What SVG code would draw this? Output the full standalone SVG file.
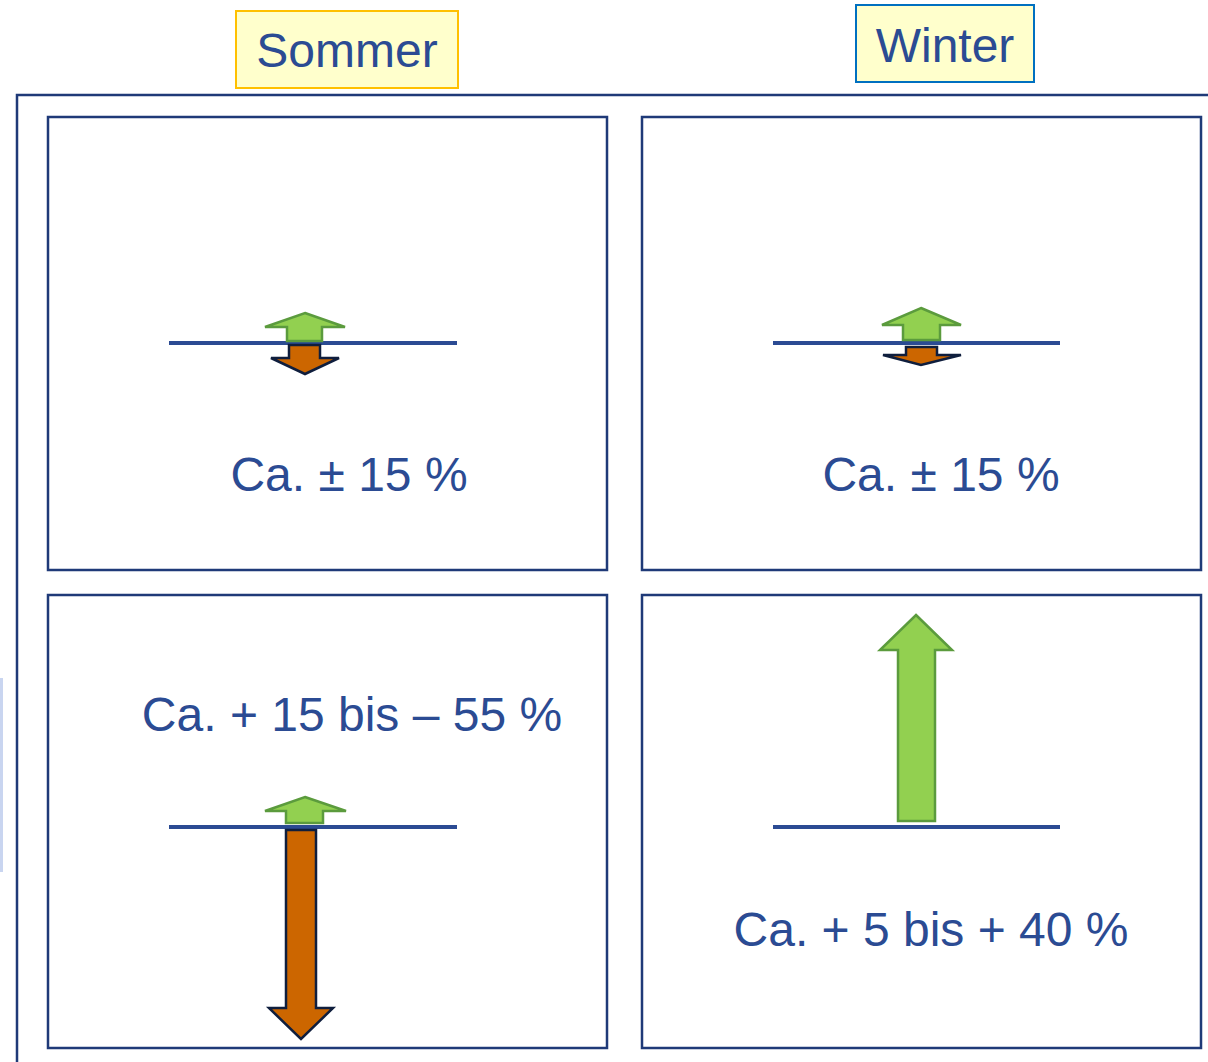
<svg xmlns="http://www.w3.org/2000/svg" width="1208" height="1062" viewBox="0 0 1208 1062">
<style>
.box{fill:#fff;stroke:#1F3A78;stroke-width:2.5}
.frame{fill:none;stroke:#1F3A78;stroke-width:2.5}
.hline{stroke:#2B4B93;stroke-width:4}
.up{fill:#92D050;stroke:#5B9B3D;stroke-width:2.5;stroke-linejoin:miter}
.down{fill:#CC6600;stroke:#0F1E3D;stroke-width:2.5;stroke-linejoin:miter}
.t{font-family:"Liberation Sans",Arial,sans-serif;font-size:48px;fill:#2B4B93;text-anchor:middle}
</style>
<rect width="1208" height="1062" fill="#fff"/>
<rect x="0" y="678" width="3" height="194" fill="#C9D5F0"/>
<path class="frame" d="M1208,95 H17 V1062"/>
<g id="label-sommer"><rect x="236" y="11" width="222" height="77" fill="#FFFFCC" stroke="#FFC000" stroke-width="2"/><text class="t" x="347" y="67">Sommer</text></g>
<g id="label-winter"><rect x="856" y="5" width="178" height="77" fill="#FFFFCC" stroke="#0070C0" stroke-width="2"/><text class="t" x="945" y="62">Winter</text></g>
<g id="box-sommer-top"><rect class="box" x="48" y="117" width="559" height="453"/><text class="t" x="349" y="491">Ca. ± 15 %</text></g>
<g id="box-winter-top"><rect class="box" x="642" y="117" width="559" height="453"/><text class="t" x="941" y="491">Ca. ± 15 %</text></g>
<g id="box-sommer-bottom"><rect class="box" x="48" y="595" width="559" height="453"/><text class="t" x="352" y="731">Ca. + 15 bis – 55 %</text></g>
<g id="box-winter-bottom"><rect class="box" x="642" y="595" width="559" height="453"/><text class="t" x="931" y="946">Ca. + 5 bis + 40 %</text></g>
<g id="connectors">
<line class="hline" x1="169" y1="343" x2="457" y2="343"/>
<line class="hline" x1="773" y1="343" x2="1060" y2="343"/>
<line class="hline" x1="169" y1="827" x2="457" y2="827"/>
<line class="hline" x1="773" y1="827" x2="1060" y2="827"/>
<polygon class="up" points="305,313 345,327 322,327 322,341 287,341 287,327 265,327"/>
<polygon class="down" points="289,345 320,345 320,358 339,358 305,374 271,358 289,358"/>
<polygon class="up" points="921,308 961,325 940,325 940,340 903,340 903,325 882,325"/>
<polygon class="down" points="906,347 937,347 937,355 961,355 921,365 883,355 906,355"/>
<polygon class="up" points="305,797 346,811 323,811 323,823 286,823 286,811 265,811"/>
<polygon class="down" points="286,830 316,830 316,1008 333,1008 301,1039 269,1008 286,1008"/>
<polygon class="up" points="916,615 952,650 935,650 935,821 898,821 898,650 880,650"/>
</g>
</svg>
